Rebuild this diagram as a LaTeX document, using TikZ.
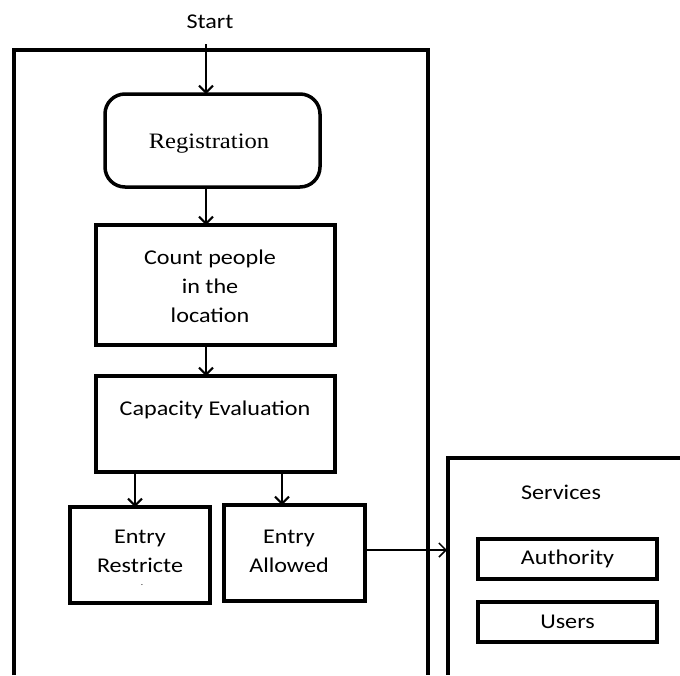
\documentclass[tikz,border=0pt]{standalone}
\usepackage{fontspec}
\setmainfont[FakeStretch=1.15]{Carlito}
\newfontfamily\regfont[FakeStretch=1.12]{Liberation Serif}
\usetikzlibrary{arrows.meta}

\begin{document}
\begin{tikzpicture}[x=1pt,y=-1pt,
flowbox/.style={draw,line width=3.5pt,inner sep=0pt,outer sep=0pt,align=center},
flowarrow/.style={line width=2.5pt,-{Straight Barb[length=7pt,width=14pt,line width=2pt]}},
font=\fontsize{21}{29}\selectfont,align=center]
\useasboundingbox (0,0) rectangle (680,675);
% outer frames, open at the bottom
\draw[line width=3.5pt] (14,675) -- (14,50) -- (428,50) -- (428,675);
\draw[line width=3.5pt] (680,458) -- (448,458) -- (448,675);
% nodes
\node (start) at (210,22) {Start};
\coordinate (startend) at (206,44);
\node[flowbox,rounded corners=20pt,minimum width=215pt,minimum height=93pt] (reg) at (212.5,140.5) {};
\node[font=\regfont\fontsize{22}{22}\selectfont] at (209,143.5) {Registration};
\node[flowbox,minimum width=239pt,minimum height=120pt] (count) at (215.5,285) {};
\node at (210,286) {Count people\\in the\\location};
\node[flowbox,minimum width=239pt,minimum height=96pt] (cap) at (215.5,424) {};
\node at (215,409.5) {Capacity Evaluation};
\node[flowbox,minimum width=140pt,minimum height=96pt] (restr) at (140,555) {};
\node at (140,551) {Entry\\Restricte};
\node[font=\fontsize{8}{8}\selectfont] at (142,585) {.};
\node[flowbox,minimum width=141pt,minimum height=96pt] (allow) at (294.5,553) {};
\node at (289,551) {Entry\\Allowed};
\node (serv) at (561,492.5) {Services};
\node[flowbox,minimum width=179pt,minimum height=40pt] (auth) at (567.5,559) {Authority};
\node[flowbox,minimum width=179pt,minimum height=40pt] (users) at (567.5,622) {Users};
\coordinate (servin) at (447,550);
% connectors
\draw[flowarrow] (startend) -- (startend |- reg.north);
\draw[flowarrow] (reg.south -| startend) -- (count.north -| startend);
\draw[flowarrow] (count.south -| startend) -- (cap.north -| startend);
\draw[flowarrow] ([xshift=-80.5pt]cap.south) -- ([xshift=-80.5pt]cap.south |- restr.north);
\draw[flowarrow] ([xshift=66.5pt]cap.south) -- ([xshift=66.5pt]cap.south |- allow.north);
\draw[line width=1.5pt,-{Straight Barb[length=7pt,width=14pt,line width=1.5pt]}] (allow.east |- servin) -- (servin);
\end{tikzpicture}
\end{document}
